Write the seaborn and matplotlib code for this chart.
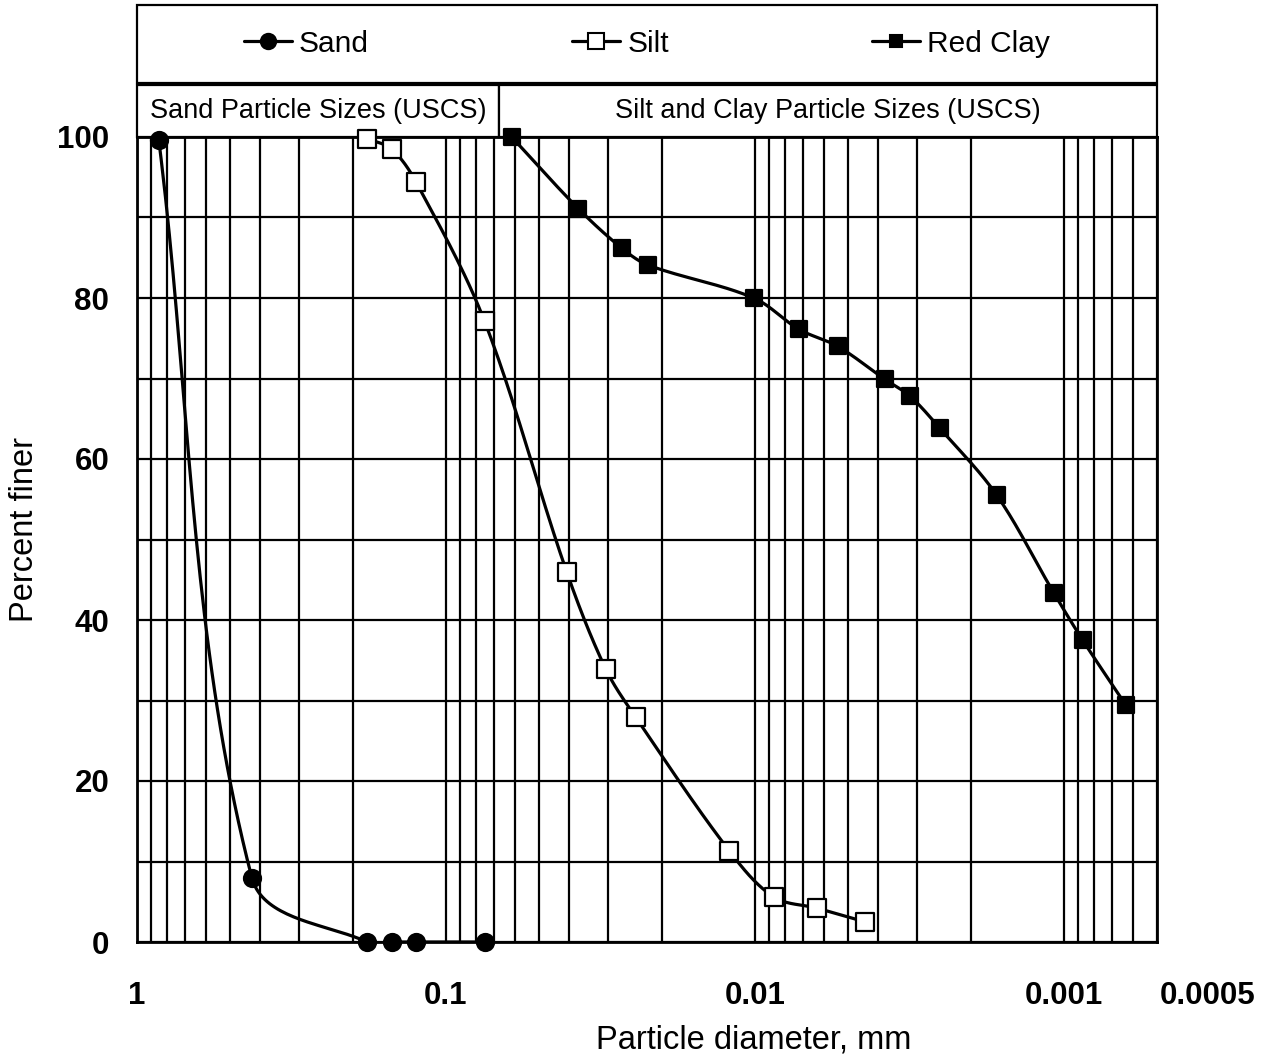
import numpy as np
import pandas as pd
import matplotlib
matplotlib.use("Agg")
import matplotlib.pyplot as plt
import seaborn as sns
from matplotlib.lines import Line2D
from matplotlib.patches import Rectangle
from matplotlib.ticker import FixedLocator, LogLocator, MultipleLocator, NullFormatter

# ---------------- data ----------------
sand_d = [0.85, 0.425, 0.18, 0.15, 0.125, 0.075]
sand_pct = [99.6, 8.0, 0.0, 0.0, 0.0, 0.0]

silt_d = [0.18, 0.15, 0.125, 0.075, 0.0407, 0.0304, 0.0243, 0.0121, 0.0087, 0.0063, 0.0044]
silt_pct = [99.8, 98.5, 94.4, 77.1, 46.0, 33.9, 27.9, 11.3, 5.6, 4.2, 2.5]

clay_d = [0.0613, 0.0373, 0.0270, 0.0222, 0.0101, 0.0072, 0.0054, 0.0038,
          0.00315, 0.00252, 0.00165, 0.00108, 0.00087, 0.00063]
clay_pct = [100.0, 91.1, 86.2, 84.1, 80.0, 76.1, 74.0, 69.9,
            67.8, 63.8, 55.5, 43.4, 37.5, 29.4]

series_names = ["Sand", "Silt", "Red Clay"]
x_ticks = [1, 0.1, 0.01, 0.001, 0.0005]
x_tick_labels = ["1", "0.1", "0.01", "0.001", ""]
extra_x_label = "0.0005"
y_ticks = [0, 20, 40, 60, 80, 100]
band_labels = ["Sand Particle Sizes (USCS)", "Silt and Clay Particle Sizes (USCS)"]

# ---------------- style ----------------
sns.set_theme(style="white")
plt.rcParams['font.family'] = ['Liberation Sans', 'DejaVu Sans']

W, H = 1265, 1058
fig = plt.figure(figsize=(W / 100, H / 100), dpi=100)
fig.patch.set_facecolor("white")
ax = fig.add_axes([137 / W, (H - 942) / H, 1020 / W, 805 / H])
ax.set_facecolor("white")
ax.set_xscale("log")
ax.set_xlim(1, 0.0005)
ax.set_ylim(0, 100)


def smooth_curve(ax, xs, ys, n=40, k=1 / 3):
    """Excel-like smoothed line through the data points (computed in display space)."""
    pts = ax.transData.transform(np.column_stack([xs, ys]))
    N = len(pts)
    out = [pts[:1]]
    for i in range(N - 1):
        p0 = pts[i - 1] if i > 0 else pts[i]
        p1, p2 = pts[i], pts[i + 1]
        p3 = pts[i + 2] if i + 2 < N else pts[i + 1]
        L = np.linalg.norm(p2 - p1)
        t1 = p2 - p0
        t1 = t1 / (np.linalg.norm(t1) or 1)
        t2 = p3 - p1
        t2 = t2 / (np.linalg.norm(t2) or 1)
        c1 = p1 + t1 * L * k
        c2 = p2 - t2 * L * k
        t = np.linspace(0, 1, n)[1:, None]
        seg = ((1 - t) ** 3) * p1 + 3 * ((1 - t) ** 2) * t * c1 + 3 * (1 - t) * (t ** 2) * c2 + (t ** 3) * p2
        out.append(seg)
    return ax.transData.inverted().transform(np.vstack(out))


styles = {
    "Sand": dict(marker="o", s=150, face="black", ms=11),
    "Silt": dict(marker="s", s=185, face="white", ms=12),
    "Red Clay": dict(marker="s", s=125, face="black", ms=9),
}
data = {"Sand": (sand_d, sand_pct), "Silt": (silt_d, silt_pct), "Red Clay": (clay_d, clay_pct)}

line_w = 2.3
for name in series_names:
    d, p = data[name]
    curve = smooth_curve(ax, d, p)
    cdf = pd.DataFrame({"d": curve[:, 0], "p": curve[:, 1]})
    sns.lineplot(data=cdf, x="d", y="p", sort=False, estimator=None, color="black",
                 linewidth=line_w, ax=ax, legend=False, zorder=4)
    st = styles[name]
    pdf = pd.DataFrame({"d": d, "p": p})
    sns.scatterplot(data=pdf, x="d", y="p", marker=st["marker"], s=st["s"],
                    color=st["face"], edgecolor="black", linewidth=1.6,
                    ax=ax, legend=False, zorder=9, clip_on=False)

ax.set_xlim(1, 0.0005)
ax.set_ylim(0, 100)

# ---------------- grid / ticks ----------------
ax.xaxis.set_major_locator(FixedLocator(x_ticks))
ax.set_xticklabels(x_tick_labels)
ax.xaxis.set_minor_locator(LogLocator(base=10, subs=np.arange(2, 10), numticks=30))
ax.xaxis.set_minor_formatter(NullFormatter())
ax.yaxis.set_major_locator(FixedLocator(y_ticks))
ax.yaxis.set_minor_locator(MultipleLocator(10))
ax.grid(which="both", color="black", linewidth=1.6)
ax.set_axisbelow(True)
ax.tick_params(which="major", direction="out", length=8, width=1.5, color="black",
               labelsize=22.5, labelcolor="black")
ax.tick_params(axis="x", which="major", pad=20)
ax.tick_params(axis="y", which="major", pad=12)
ax.tick_params(which="minor", length=0)
for lab in ax.get_xticklabels() + ax.get_yticklabels():
    lab.set_fontweight("bold")
for sp in ax.spines.values():
    sp.set_color("black")
    sp.set_linewidth(2)

ax.text(1.05, -0.0485, extra_x_label, transform=ax.transAxes, ha="center", va="top",
        fontsize=22.5, fontweight="bold", color="black")

ax.set_xlabel("Particle diameter, mm", fontsize=23.5, color="black")
ax.set_ylabel("Percent finer", fontsize=23.5, color="black")
ax.xaxis.set_label_coords(0.605, -0.103)
ax.yaxis.set_label_coords(-0.095, 0.512)

# ---------------- header boxes ----------------
split = (499 - 137) / 1020
row_top = 1.064
box_kw = dict(transform=ax.transAxes, clip_on=False, facecolor="white",
              edgecolor="black", linewidth=1.6, zorder=6)
ax.add_patch(Rectangle((0, 1.0), split, row_top - 1.0, **box_kw))
ax.add_patch(Rectangle((split, 1.0), 1 - split, row_top - 1.0, **box_kw))
ax.text(split / 2, (1.0 + row_top) / 2, band_labels[0], transform=ax.transAxes,
        ha="center", va="center", fontsize=19.5, color="black", zorder=7)
ax.text((split + 1) / 2, (1.0 + row_top) / 2, band_labels[1], transform=ax.transAxes,
        ha="center", va="center", fontsize=19.5, color="black", zorder=7)

leg_bottom, leg_top = 1.0675, 1.164
ax.add_patch(Rectangle((0, leg_bottom), 1, leg_top - leg_bottom, **box_kw))

handles = []
for name in series_names:
    st = styles[name]
    handles.append(Line2D([0], [0], color="black", linewidth=line_w, marker=st["marker"],
                          markersize=st["ms"], markerfacecolor=st["face"],
                          markeredgecolor="black", markeredgewidth=1.5))
leg = ax.legend(handles, series_names, loc="center", bbox_to_anchor=(0.5, (leg_bottom + leg_top) / 2),
                bbox_transform=ax.transAxes, ncol=3, frameon=False, fontsize=21.5,
                handlelength=1.6, handletextpad=0.25, columnspacing=6.8, numpoints=1)
leg.set_zorder(8)
for t in leg.get_texts():
    t.set_color("black")

fig.savefig("out.png", dpi=100, facecolor="white")
